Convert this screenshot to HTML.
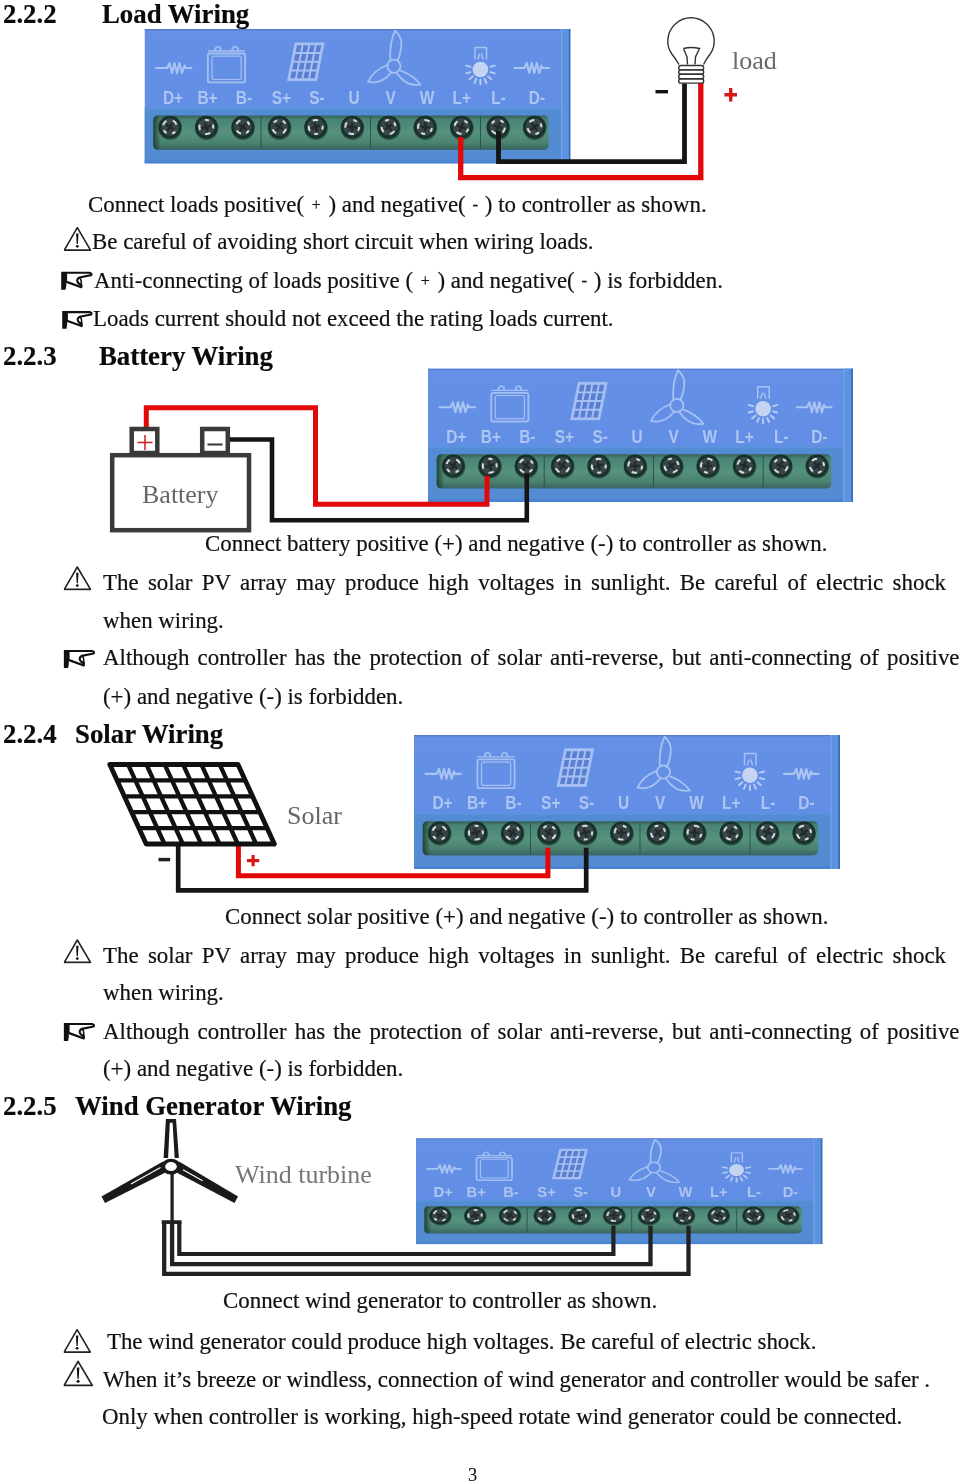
<!DOCTYPE html>
<html><head><meta charset="utf-8">
<style>
html,body{margin:0;padding:0;background:#fff;}
body{width:961px;height:1483px;overflow:hidden;position:relative;}
.t{position:absolute;will-change:transform;white-space:nowrap;font-family:"Liberation Serif",serif;font-size:22.9px;line-height:22.8px;height:22.8px;color:#111;-webkit-text-stroke:0.2px #111;}
.h{font-weight:bold;font-size:26.8px;line-height:26.5px;height:26.5px;color:#0a0a0a;}
.j{text-align:justify;text-align-last:justify;}
svg{position:absolute;left:0;top:0;will-change:transform;}
</style></head>
<body>
<svg width="961" height="1483" viewBox="0 0 961 1483">
<defs>
<filter id="soft" x="-2%" y="-5%" width="104%" height="110%"><feGaussianBlur stdDeviation="0.45"/></filter>
<symbol id="tri" viewBox="0 0 28 25">
<path d="M13.6 1.2 L26.8 23.6 L0.6 23.6 Z" fill="none" stroke="#222" stroke-width="1.6" stroke-linejoin="round"/>
<path d="M12.4 7 L14.8 7 L14.2 17.4 L13 17.4 Z" fill="#111"/>
<circle cx="13.6" cy="19.8" r="1.4" fill="#111"/>
</symbol>
<symbol id="hand" viewBox="0 0 32 19">
<path d="M0.2 0 L5.3 0 L5.3 14 L4.6 18.2 L0.2 18.2 Z" fill="#111"/>
<path d="M5 0.9 L28.6 1.1 Q31.4 1.9 30 3.6 L18.4 5.9 Q14.5 8.2 17.5 11.6 L20.4 13.4 L20.3 15.6 L5 10 Z" fill="#fff" stroke="#111" stroke-width="2.2" stroke-linejoin="round"/>
<path d="M18.6 6 Q20.6 7.6 20.3 13.2" fill="none" stroke="#111" stroke-width="1.6"/>
</symbol>
<symbol id="panel" viewBox="0 0 426 134.5" preserveAspectRatio="none">
<defs><linearGradient id="gs" x1="0" y1="0" x2="0" y2="1">
<stop offset="0" stop-color="#355f55"/><stop offset="0.12" stop-color="#4a8474"/><stop offset="0.5" stop-color="#56927e"/><stop offset="0.8" stop-color="#4b8170"/><stop offset="0.93" stop-color="#3f6c64"/><stop offset="1" stop-color="#3d6670"/></linearGradient>
<linearGradient id="gl" x1="0" y1="0" x2="1" y2="0"><stop offset="0" stop-color="#1a3a30" stop-opacity="0.9"/><stop offset="1" stop-color="#1a3a30" stop-opacity="0"/></linearGradient>
<linearGradient id="bb" x1="0" y1="0" x2="0" y2="1"><stop offset="0" stop-color="#6590e6"/><stop offset="1" stop-color="#5f8de4"/></linearGradient></defs>
<rect x="0" y="0" width="426" height="134.5" fill="url(#bb)"/>
<rect x="0" y="0" width="426" height="1.3" fill="#5279cc"/>
<rect x="0" y="79" width="416" height="55.5" fill="#528cd2"/>
<rect x="0" y="78.5" width="416" height="1.8" fill="#5a93de"/>
<rect x="0" y="131.5" width="416" height="3" fill="#4c84d2"/>
<rect x="416" y="0" width="10" height="134.5" fill="#5b92de"/>
<rect x="416.5" y="0" width="1.3" height="134.5" fill="#72a3ea"/>
<rect x="424.3" y="0" width="1.7" height="134.5" fill="#3c6bbc"/>
<rect x="8.7" y="86.5" width="395.5" height="34.5" rx="5" fill="url(#gs)"/>
<rect x="8.7" y="86.5" width="8" height="34.5" rx="5" fill="url(#gl)"/>
<path d="M116.5 87.5 V120 M226 87.5 V120 M336 87.5 V120" stroke="#2a5646" stroke-width="1"/>
<g transform="translate(25.40,98)"><ellipse cx="0.3" cy="1" rx="11.8" ry="11.9" fill="#10241d" opacity="0.55"/><circle r="11.3" fill="#17302a"/><g transform="rotate(200)"><circle r="8.8" fill="#38444a"/><path d="M6.97,-0.61 A7.0,7.0 0 0 1 5.36,4.50 M-0.61,6.97 A7.0,7.0 0 0 1 -5.36,4.50 M-6.58,-2.39 A7.0,7.0 0 0 1 -4.31,-5.52 M1.22,-6.89 A7.0,7.0 0 0 1 4.68,-5.20" fill="none" stroke="#d6dedb" stroke-width="2"/><path d="M-4.5,-1 L4.5,1 M-1,4.5 L1,-4.5" stroke="#222c2e" stroke-width="2.4"/></g></g><g transform="translate(61.85,98)"><ellipse cx="0.3" cy="1" rx="11.8" ry="11.9" fill="#10241d" opacity="0.55"/><circle r="11.3" fill="#17302a"/><g transform="rotate(60)"><circle r="8.8" fill="#38444a"/><path d="M6.97,-0.61 A7.0,7.0 0 0 1 5.36,4.50 M-0.61,6.97 A7.0,7.0 0 0 1 -5.36,4.50 M-6.58,-2.39 A7.0,7.0 0 0 1 -4.31,-5.52 M1.22,-6.89 A7.0,7.0 0 0 1 4.68,-5.20" fill="none" stroke="#d6dedb" stroke-width="2"/><path d="M-4.5,-1 L4.5,1 M-1,4.5 L1,-4.5" stroke="#222c2e" stroke-width="2.4"/></g></g><g transform="translate(98.30,98)"><ellipse cx="0.3" cy="1" rx="11.8" ry="11.9" fill="#10241d" opacity="0.55"/><circle r="11.3" fill="#17302a"/><g transform="rotate(110)"><circle r="8.8" fill="#38444a"/><path d="M6.97,-0.61 A7.0,7.0 0 0 1 5.36,4.50 M-0.61,6.97 A7.0,7.0 0 0 1 -5.36,4.50 M-6.58,-2.39 A7.0,7.0 0 0 1 -4.31,-5.52 M1.22,-6.89 A7.0,7.0 0 0 1 4.68,-5.20" fill="none" stroke="#d6dedb" stroke-width="2"/><path d="M-4.5,-1 L4.5,1 M-1,4.5 L1,-4.5" stroke="#222c2e" stroke-width="2.4"/></g></g><g transform="translate(134.75,98)"><ellipse cx="0.3" cy="1" rx="11.8" ry="11.9" fill="#10241d" opacity="0.55"/><circle r="11.3" fill="#17302a"/><g transform="rotate(20)"><circle r="8.8" fill="#38444a"/><path d="M6.97,-0.61 A7.0,7.0 0 0 1 5.36,4.50 M-0.61,6.97 A7.0,7.0 0 0 1 -5.36,4.50 M-6.58,-2.39 A7.0,7.0 0 0 1 -4.31,-5.52 M1.22,-6.89 A7.0,7.0 0 0 1 4.68,-5.20" fill="none" stroke="#d6dedb" stroke-width="2"/><path d="M-4.5,-1 L4.5,1 M-1,4.5 L1,-4.5" stroke="#222c2e" stroke-width="2.4"/></g></g><g transform="translate(171.20,98)"><ellipse cx="0.3" cy="1" rx="11.8" ry="11.9" fill="#10241d" opacity="0.55"/><circle r="11.3" fill="#17302a"/><g transform="rotate(150)"><circle r="8.8" fill="#38444a"/><path d="M6.97,-0.61 A7.0,7.0 0 0 1 5.36,4.50 M-0.61,6.97 A7.0,7.0 0 0 1 -5.36,4.50 M-6.58,-2.39 A7.0,7.0 0 0 1 -4.31,-5.52 M1.22,-6.89 A7.0,7.0 0 0 1 4.68,-5.20" fill="none" stroke="#d6dedb" stroke-width="2"/><path d="M-4.5,-1 L4.5,1 M-1,4.5 L1,-4.5" stroke="#222c2e" stroke-width="2.4"/></g></g><g transform="translate(207.65,98)"><ellipse cx="0.3" cy="1" rx="11.8" ry="11.9" fill="#10241d" opacity="0.55"/><circle r="11.3" fill="#17302a"/><g transform="rotate(80)"><circle r="8.8" fill="#38444a"/><path d="M6.97,-0.61 A7.0,7.0 0 0 1 5.36,4.50 M-0.61,6.97 A7.0,7.0 0 0 1 -5.36,4.50 M-6.58,-2.39 A7.0,7.0 0 0 1 -4.31,-5.52 M1.22,-6.89 A7.0,7.0 0 0 1 4.68,-5.20" fill="none" stroke="#d6dedb" stroke-width="2"/><path d="M-4.5,-1 L4.5,1 M-1,4.5 L1,-4.5" stroke="#222c2e" stroke-width="2.4"/></g></g><g transform="translate(244.10,98)"><ellipse cx="0.3" cy="1" rx="11.8" ry="11.9" fill="#10241d" opacity="0.55"/><circle r="11.3" fill="#17302a"/><g transform="rotate(40)"><circle r="8.8" fill="#38444a"/><path d="M6.97,-0.61 A7.0,7.0 0 0 1 5.36,4.50 M-0.61,6.97 A7.0,7.0 0 0 1 -5.36,4.50 M-6.58,-2.39 A7.0,7.0 0 0 1 -4.31,-5.52 M1.22,-6.89 A7.0,7.0 0 0 1 4.68,-5.20" fill="none" stroke="#d6dedb" stroke-width="2"/><path d="M-4.5,-1 L4.5,1 M-1,4.5 L1,-4.5" stroke="#222c2e" stroke-width="2.4"/></g></g><g transform="translate(280.55,98)"><ellipse cx="0.3" cy="1" rx="11.8" ry="11.9" fill="#10241d" opacity="0.55"/><circle r="11.3" fill="#17302a"/><g transform="rotate(170)"><circle r="8.8" fill="#38444a"/><path d="M6.97,-0.61 A7.0,7.0 0 0 1 5.36,4.50 M-0.61,6.97 A7.0,7.0 0 0 1 -5.36,4.50 M-6.58,-2.39 A7.0,7.0 0 0 1 -4.31,-5.52 M1.22,-6.89 A7.0,7.0 0 0 1 4.68,-5.20" fill="none" stroke="#d6dedb" stroke-width="2"/><path d="M-4.5,-1 L4.5,1 M-1,4.5 L1,-4.5" stroke="#222c2e" stroke-width="2.4"/></g></g><g transform="translate(317.00,98)"><ellipse cx="0.3" cy="1" rx="11.8" ry="11.9" fill="#10241d" opacity="0.55"/><circle r="11.3" fill="#17302a"/><g transform="rotate(95)"><circle r="8.8" fill="#38444a"/><path d="M6.97,-0.61 A7.0,7.0 0 0 1 5.36,4.50 M-0.61,6.97 A7.0,7.0 0 0 1 -5.36,4.50 M-6.58,-2.39 A7.0,7.0 0 0 1 -4.31,-5.52 M1.22,-6.89 A7.0,7.0 0 0 1 4.68,-5.20" fill="none" stroke="#d6dedb" stroke-width="2"/><path d="M-4.5,-1 L4.5,1 M-1,4.5 L1,-4.5" stroke="#222c2e" stroke-width="2.4"/></g></g><g transform="translate(353.45,98)"><ellipse cx="0.3" cy="1" rx="11.8" ry="11.9" fill="#10241d" opacity="0.55"/><circle r="11.3" fill="#17302a"/><g transform="rotate(10)"><circle r="8.8" fill="#38444a"/><path d="M6.97,-0.61 A7.0,7.0 0 0 1 5.36,4.50 M-0.61,6.97 A7.0,7.0 0 0 1 -5.36,4.50 M-6.58,-2.39 A7.0,7.0 0 0 1 -4.31,-5.52 M1.22,-6.89 A7.0,7.0 0 0 1 4.68,-5.20" fill="none" stroke="#d6dedb" stroke-width="2"/><path d="M-4.5,-1 L4.5,1 M-1,4.5 L1,-4.5" stroke="#222c2e" stroke-width="2.4"/></g></g><g transform="translate(389.90,98)"><ellipse cx="0.3" cy="1" rx="11.8" ry="11.9" fill="#10241d" opacity="0.55"/><circle r="11.3" fill="#17302a"/><g transform="rotate(130)"><circle r="8.8" fill="#38444a"/><path d="M6.97,-0.61 A7.0,7.0 0 0 1 5.36,4.50 M-0.61,6.97 A7.0,7.0 0 0 1 -5.36,4.50 M-6.58,-2.39 A7.0,7.0 0 0 1 -4.31,-5.52 M1.22,-6.89 A7.0,7.0 0 0 1 4.68,-5.20" fill="none" stroke="#d6dedb" stroke-width="2"/><path d="M-4.5,-1 L4.5,1 M-1,4.5 L1,-4.5" stroke="#222c2e" stroke-width="2.4"/></g></g>
<g font-family="Liberation Sans, sans-serif" font-weight="bold" font-size="18" fill="#aec5f1"><text transform="translate(28.5,74.7) scale(0.86,1)" text-anchor="middle">D+</text><text transform="translate(63,74.7) scale(0.86,1)" text-anchor="middle">B+</text><text transform="translate(99.5,74.7) scale(0.86,1)" text-anchor="middle">B-</text><text transform="translate(136.8,74.7) scale(0.86,1)" text-anchor="middle">S+</text><text transform="translate(172.5,74.7) scale(0.86,1)" text-anchor="middle">S-</text><text transform="translate(209.5,74.7) scale(0.86,1)" text-anchor="middle">U</text><text transform="translate(246.2,74.7) scale(0.86,1)" text-anchor="middle">V</text><text transform="translate(282.5,74.7) scale(0.86,1)" text-anchor="middle">W</text><text transform="translate(317.3,74.7) scale(0.86,1)" text-anchor="middle">L+</text><text transform="translate(354.1,74.7) scale(0.86,1)" text-anchor="middle">L-</text><text transform="translate(392.4,74.7) scale(0.86,1)" text-anchor="middle">D-</text></g>
<g fill="none" stroke="#a9c3f3" stroke-width="2.1" stroke-linejoin="round" stroke-linecap="round">
<path d="M11.5 39 H22.7 L25 34 L27.5 44 L30 34 L32.5 44 L35 34 L37.5 44 L40 36.5 L41 39 H47"/>
<path d="M370 39 H380 L382.3 34 L384.8 44 L387.3 34 L389.8 44 L392.3 34 L394.8 44 L397 36.5 L398 39 H404.5"/>
</g>
<g fill="none" stroke="#a4bff2" stroke-linejoin="round">
<rect x="63.4" y="24.5" width="37.2" height="28.9" rx="2" stroke-width="1.8"/>
<rect x="67.5" y="27.2" width="29.2" height="23.3" rx="2" stroke-width="1.2"/>
<path d="M63.5 22 H100.5" stroke-width="1.3"/>
<path d="M70.8 22 V19.5 Q73.5 15.8 76.2 19.5 V22 M88 22 V19.5 Q90.7 15.8 93.4 19.5 V22" stroke-width="1.8"/>
</g>
<polygon points="150.60,13.90 179.70,13.90 172.10,51.70 143.00,51.70" fill="#a6c0f3" stroke="#a6c0f3" stroke-width="0.8" stroke-linejoin="round"/>
<g fill="#5a7fd0"><polygon points="152.52,16.30 157.09,16.30 155.74,23.05 151.16,23.05"/><polygon points="159.09,16.30 163.67,16.30 162.31,23.05 157.74,23.05"/><polygon points="165.67,16.30 170.24,16.30 168.89,23.05 164.31,23.05"/><polygon points="172.24,16.30 176.82,16.30 175.46,23.05 170.89,23.05"/><polygon points="150.76,25.05 155.33,25.05 153.98,31.80 149.40,31.80"/><polygon points="157.33,25.05 161.91,25.05 160.55,31.80 155.98,31.80"/><polygon points="163.91,25.05 168.48,25.05 167.13,31.80 162.55,31.80"/><polygon points="170.48,25.05 175.06,25.05 173.70,31.80 169.13,31.80"/><polygon points="149.00,33.80 153.57,33.80 152.22,40.55 147.64,40.55"/><polygon points="155.57,33.80 160.15,33.80 158.79,40.55 154.22,40.55"/><polygon points="162.15,33.80 166.72,33.80 165.37,40.55 160.79,40.55"/><polygon points="168.72,33.80 173.30,33.80 171.94,40.55 167.37,40.55"/><polygon points="147.24,42.55 151.81,42.55 150.46,49.30 145.88,49.30"/><polygon points="153.81,42.55 158.39,42.55 157.03,49.30 152.46,49.30"/><polygon points="160.39,42.55 164.96,42.55 163.61,49.30 159.03,49.30"/><polygon points="166.96,42.55 171.54,42.55 170.18,49.30 165.61,49.30"/></g>
<g fill="none" stroke="#a6c1f2" stroke-width="1.8" stroke-linejoin="round" stroke-linecap="round">
<circle cx="249.4" cy="37.2" r="6.6"/>
<path d="M245.8 31.2 Q244.8 14 250.5 1.8 Q257.8 8 256.8 17 Q255.8 26 253.2 31"/>
<path d="M243 36 Q229 41 223.5 52.8 Q236.5 56 246.5 43.8"/>
<path d="M256 41.5 Q268.5 46 276 55.7 Q262 58.5 252 43.8"/>
<path d="M330.5 30 V18.5 H342 V30 M333.5 30 L335 25 M338.5 30 L337 25" stroke-width="1.5"/>
</g>
<circle cx="335.9" cy="40.5" r="7.8" fill="#c5d4f3"/>
<path d="M345.85 37.83 L350.20 36.67 M345.85 43.17 L350.20 44.33 M343.55 47.39 L346.90 50.40 M340.09 49.91 L341.92 54.02 M335.90 50.80 L335.90 55.30 M331.71 49.91 L329.88 54.02 M328.25 47.39 L324.90 50.40 M325.95 43.17 L321.60 44.33 M325.95 37.83 L321.60 36.67" stroke="#b9cdf4" stroke-width="1.9" stroke-linecap="round"/>
</symbol>
</defs>
<!-- panels -->
<use href="#panel" x="144.5" y="29" width="426" height="134.5" filter="url(#soft)"/>
<use href="#panel" x="428" y="368.5" width="425" height="133.5" filter="url(#soft)"/>
<use href="#panel" x="414" y="735" width="426" height="134" filter="url(#soft)"/>
<use href="#panel" x="416" y="1138.2" width="406.5" height="106" filter="url(#soft)"/>
<!-- load diagram -->
<g fill="none" stroke-linejoin="miter">
<path d="M460.7 137 V177.6 H700.8 V83" stroke="#e20808" stroke-width="5.3"/>
<path d="M498.5 131 V161.6 H684.5 V83.5" stroke="#151515" stroke-width="4.8"/>
</g>
<g fill="none" stroke="#333" stroke-width="1.4">
<path d="M679 64.5 Q675.5 58.5 672 54.3 A23.2 23.2 0 1 1 710 54.3 Q706.5 58.5 703.5 64.5"/>
<path d="M683.5 48.5 Q691 46.5 699.5 48.5 L695.5 57 L695 64.5 M687.5 64.5 L687 57 L683.5 48.5"/>
<rect x="678.7" y="65.5" width="25" height="4.4" rx="2.2"/>
<rect x="678.7" y="69.9" width="25" height="4.4" rx="2.2"/>
<rect x="678.7" y="74.3" width="25" height="4.4" rx="2.2"/>
<rect x="678.7" y="78.7" width="25" height="4.4" rx="2.2"/>
</g>
<path d="M655.5 91.7 H668" stroke="#111" stroke-width="3.4"/>
<path d="M724.4 94.7 H737 M730.7 88 V101.4" stroke="#d81818" stroke-width="3.4"/>
<text x="732" y="69.4" font-family="Liberation Serif, serif" font-size="26" fill="#6a6a6a">load</text>
<!-- battery diagram -->
<g fill="none">
<path d="M146.3 427 V407.8 H315.5 V504.3 H487 V475.8" stroke="#e20808" stroke-width="5"/>
<path d="M230 439.5 H272 V520.3 H526.8 V473.4" stroke="#151515" stroke-width="4.6"/>
<rect x="112.2" y="455.2" width="136.8" height="75" stroke="#3a3a3a" stroke-width="4.5"/>
<rect x="131.7" y="429" width="25.6" height="24" stroke="#3a3a3a" stroke-width="4.5"/>
<rect x="202.2" y="429" width="25.6" height="24" stroke="#3a3a3a" stroke-width="4.5"/>
<path d="M137.5 442.5 H152.5 M145 435 V450" stroke="#cc1f1f" stroke-width="1.5"/>
<path d="M207.5 444.5 H222.5" stroke="#333" stroke-width="2"/>
</g>
<text x="142" y="503" font-family="Liberation Serif, serif" font-size="26" fill="#666">Battery</text>
<!-- solar diagram -->
<g fill="none">
<path d="M238.4 843 V875.7 H547.9 V847.8" stroke="#e20808" stroke-width="5"/>
<path d="M178.2 843 V890.3 H586.2 V847.8" stroke="#151515" stroke-width="4.7"/>
</g>
<path d="M158.5 859.6 H170.2" stroke="#222" stroke-width="3.5"/>
<path d="M247 860.6 H259.2 M253.1 855 V866.3" stroke="#d81818" stroke-width="3.2"/>
<text x="287" y="824" font-family="Liberation Serif, serif" font-size="26" fill="#666">Solar</text>
<g fill="none" stroke="#111"><polygon points="109.8,764.5 238.0,764.5 274.4,844.0 146.2,844.0" stroke-width="4.8" stroke-linejoin="round"/><path d="M117.1 780.4 H245.3 M124.4 796.3 H252.6 M131.6 812.2 H259.8 M138.9 828.1 H267.1 M128.1 764.5 L164.5 844.0 M146.4 764.5 L182.8 844.0 M164.7 764.5 L201.2 844.0 M183.1 764.5 L219.5 844.0 M201.4 764.5 L237.8 844.0 M219.7 764.5 L256.1 844.0" stroke-width="4.3"/></g>
<!-- wind diagram -->
<g fill="none" stroke="#222">
<path d="M179.3 1222 V1254 H613.4 V1225.7" stroke-width="4.2"/>
<path d="M172.1 1222 V1264.1 H650.5 V1225.7" stroke-width="4.3"/>
<path d="M164.2 1222 V1273.9 H688.5 V1225.7" stroke-width="4.3"/>
<path d="M161.7 1222.1 H181.5" stroke-width="3.7"/>
<path d="M172.1 1170 V1222" stroke-width="3.3"/>
</g>
<polygon points="165.9,1119 176,1119 178.9,1158 163.6,1158" fill="#1a1a1a"/>
<polygon points="169.8,1122.8 172.6,1122.8 174.7,1158 168.1,1158" fill="#fff"/>
<polygon points="163,1161.5 101.5,1196.5 105,1203 164.5,1173" fill="#1a1a1a"/>
<polygon points="179,1161.5 238,1196.5 234.5,1203 177.5,1173" fill="#1a1a1a"/>
<path d="M131 1184 L160.5 1167.5 M183 1169.8 L202.6 1180.7" stroke="#fff" stroke-width="1.1"/>
<ellipse cx="171" cy="1166.6" rx="9.8" ry="7.85" fill="#1a1a1a"/>
<ellipse cx="171" cy="1166.6" rx="5.85" ry="4.5" fill="#fff"/>
<text x="235" y="1183.4" font-family="Liberation Serif, serif" font-size="26" fill="#777">Wind turbine</text>
<!-- icons -->
<use href="#tri" x="63.7" y="226.5" width="28" height="25"/>
<use href="#hand" x="61" y="271.6" width="32" height="19"/>
<use href="#hand" x="62" y="310.7" width="31" height="19"/>
<use href="#tri" x="63.7" y="565.8" width="28" height="25"/>
<use href="#hand" x="63.5" y="649.9" width="32" height="19"/>
<use href="#tri" x="63.7" y="938.8" width="28" height="25"/>
<use href="#hand" x="63.5" y="1022.9" width="32" height="19"/>
<use href="#tri" x="63.5" y="1328.5" width="28" height="25"/>
<use href="#tri" x="63.5" y="1360" width="30" height="27"/>
</svg>

<div class="t h" style="left:3px;top:1.0px">2.2.2</div>
<div class="t h" style="left:102px;top:1.0px">Load Wiring</div>
<div class="t" style="left:88.0px;top:193.5px">Connect loads positive( <span style="line-height:0;font-size:16px;padding:0 1.9px;vertical-align:2.5px">+</span> ) and negative( <span style="line-height:0;font-size:17px;padding:0 1px;vertical-align:2.5px">-</span> ) to controller as shown.</div>
<div class="t" style="left:91.5px;top:231.2px">Be careful of avoiding short circuit when wiring loads.</div>
<div class="t" style="left:93.5px;top:270.1px">Anti-connecting of loads positive ( <span style="line-height:0;font-size:16px;padding:0 1.9px;vertical-align:2.5px">+</span> ) and negative( <span style="line-height:0;font-size:17px;padding:0 1px;vertical-align:2.5px">-</span> ) is forbidden.</div>
<div class="t" style="left:92.5px;top:307.6px">Loads current should not exceed the rating loads current.</div>

<div class="t h" style="left:3px;top:343.0px">2.2.3</div>
<div class="t h" style="left:99px;top:343.0px">Battery Wiring</div>
<div class="t" style="left:205.0px;top:532.9px">Connect battery positive (+) and negative (-) to controller as shown.</div>
<div class="t j" style="left:102.5px;top:571.7px;width:843px">The solar PV array may produce high voltages in sunlight. Be careful of electric shock</div>
<div class="t" style="left:102.5px;top:609.6px">when wiring.</div>
<div class="t j" style="left:103.0px;top:646.9px;width:856.5px">Although controller has the protection of solar anti-reverse, but anti-connecting of positive</div>
<div class="t" style="left:102.5px;top:685.6px">(+) and negative (-) is forbidden.</div>

<div class="t h" style="left:3px;top:720.5px">2.2.4</div>
<div class="t h" style="left:75px;top:720.5px">Solar Wiring</div>
<div class="t" style="left:224.5px;top:906.0px">Connect solar positive (+) and negative (-) to controller as shown.</div>
<div class="t j" style="left:102.5px;top:944.5px;width:843px">The solar PV array may produce high voltages in sunlight. Be careful of electric shock</div>
<div class="t" style="left:102.5px;top:982.0px">when wiring.</div>
<div class="t j" style="left:103.0px;top:1020.5px;width:856.5px">Although controller has the protection of solar anti-reverse, but anti-connecting of positive</div>
<div class="t" style="left:102.5px;top:1058.0px">(+) and negative (-) is forbidden.</div>

<div class="t h" style="left:3px;top:1093.2px">2.2.5</div>
<div class="t h" style="left:75px;top:1093.2px">Wind Generator Wiring</div>
<div class="t" style="left:223.0px;top:1289.9px">Connect wind generator to controller as shown.</div>
<div class="t" style="left:107.3px;top:1330.9px;letter-spacing:-0.04px">The wind generator could produce high voltages. Be careful of electric shock.</div>
<div class="t" style="left:103.0px;top:1368.6px;letter-spacing:-0.035px">When it’s breeze or windless, connection of wind generator and controller would be safer .</div>
<div class="t" style="left:101.5px;top:1406.3px">Only when controller is working, high-speed rotate wind generator could be connected.</div>
<div class="t" style="left:468px;top:1466px;font-size:18.5px;line-height:18px;-webkit-text-stroke:0.1px #111">3</div>
</body></html>
